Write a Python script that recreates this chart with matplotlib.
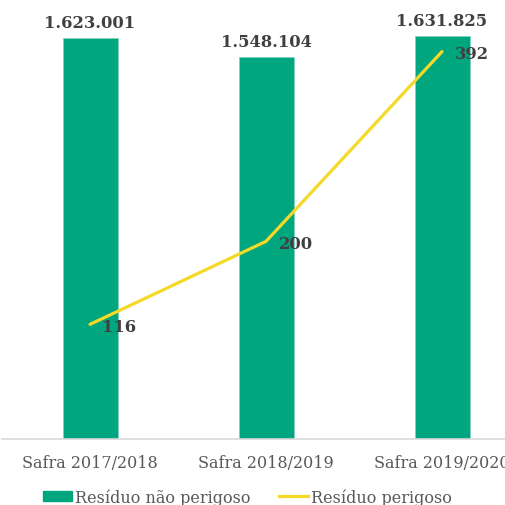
import matplotlib
matplotlib.use("Agg")
import matplotlib.pyplot as plt
from matplotlib.patches import Patch
from matplotlib.lines import Line2D

categories = ["Safra 2017/2018", "Safra 2018/2019", "Safra 2019/2020"]
nao_perigoso = [1623001, 1548104, 1631825]
perigoso = [116, 200, 392]
bar_labels = ["1.623.001", "1.548.104", "1.631.825"]

GREEN = "#00A67E"
YELLOW = "#F5D928"
LABEL = "#404040"
TICK = "#595959"
SERIF = "DejaVu Serif"

W, H = 505, 506
fig = plt.figure(figsize=(W / 100, H / 100), dpi=100)

# axes geometry in pixels
left_px, bottom_px = 2, 440
width_px, height_px = 528, 444.7
ax = fig.add_axes([left_px / W, (H - bottom_px) / H, width_px / W, height_px / H])

x = list(range(len(categories)))
ax.bar(x, nao_perigoso, width=0.3125, color=GREEN, edgecolor="#7fd3bd", linewidth=0.5, zorder=2)
ax.set_xlim(-0.5, 2.5)
ax.set_ylim(0, 1800000)

for xi, v, t in zip(x, nao_perigoso, bar_labels):
    ax.annotate(t, (xi, v), xytext=(0, 5), textcoords="offset points",
                ha="center", va="bottom", fontsize=11.8, fontweight="bold",
                color=LABEL, family=SERIF, annotation_clip=False, clip_on=False)

for s in ["top", "right", "left"]:
    ax.spines[s].set_visible(False)
ax.spines["bottom"].set_color("#d9d9d9")
ax.spines["bottom"].set_linewidth(1.2)
ax.set_yticks([])
ax.set_xticks(x)
ax.set_xticklabels(categories, fontsize=11.5, color=TICK, family=SERIF)
ax.tick_params(axis="x", length=0, pad=11)

ax2 = ax.twinx()
ax2.set_ylim(0, 450)
ax2.plot(x, perigoso, color=YELLOW, linewidth=2.3, zorder=3, solid_capstyle="round")
for xi, v in zip(x, perigoso):
    ax2.annotate(str(v), (xi, v), xytext=(9, -1.5), textcoords="offset points",
                 ha="left", va="center", fontsize=11.8, fontweight="bold",
                 color=LABEL, family=SERIF, annotation_clip=False)
ax2.set_yticks([])
for s in ax2.spines.values():
    s.set_visible(False)

handles = [Patch(facecolor=GREEN, edgecolor=GREEN),
           Line2D([0], [0], color=YELLOW, linewidth=2.3)]
fig.legend(handles, ["Resíduo não perigoso", "Resíduo perigoso"],
           loc="center", bbox_to_anchor=(0.49, 8 / H), ncol=2, frameon=False,
           prop={"family": SERIF, "size": 11.5}, labelcolor=TICK,
           handlelength=1.8, handleheight=0.6, handletextpad=0.2, columnspacing=1.8)

fig.savefig("out.png", dpi=100)
